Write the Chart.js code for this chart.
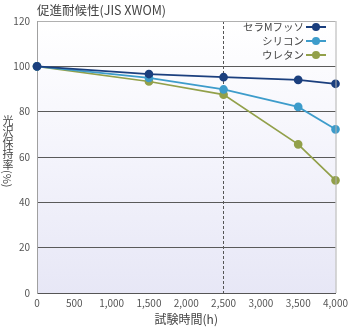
<!DOCTYPE html>
<html>
<head>
<meta charset="utf-8">
<script src="https://cdn.jsdelivr.net/npm/chart.js@4/dist/chart.umd.min.js"></script>
<style>
    html, body { margin: 0; padding: 0; background: #fff; }
    .wrap { position: relative; width: 352px; height: 329px; font-family: 'Noto Sans CJK JP', sans-serif; color: #444; }
    canvas { position: absolute; left: 0; top: 0; }
    .title { position: absolute; left: 37px; top: 1px; font-size: 12.5px; line-height: 18px; white-space: nowrap; }
    .ytitle { position: absolute; left: 1px; top: 115px; width: 13px; font-size: 11px; line-height: 13px; writing-mode: vertical-rl; text-orientation: mixed; white-space: nowrap; }
    .legend { position: absolute; right: 26px; top: 20px; font-size: 10.5px; line-height: 14px; text-align: right; }
    .legend div { white-space: nowrap; }
    .mark { display: inline-block; position: relative; width: 20px; height: 14px; vertical-align: top; margin-left: 2px; }
    .mark i { position: absolute; left: 0; right: 0; top: 6px; height: 2px; }
    .mark b { position: absolute; left: 6px; top: 3px; width: 8px; height: 8px; border-radius: 50%; }
</style>
</head>
<body>
<div class="wrap">
    <canvas id="chart" width="352" height="329"></canvas>
    <div class="title">促進耐候性(JIS XWOM)</div>
    <div class="ytitle">光沢保持率(%)</div>
    <div class="legend" id="legend"></div>
</div>
<script>
const seriesNames = ['セラMフッソ', 'シリコン', 'ウレタン'];
const hours = [0, 1500, 2500, 3500, 4000];
const ceraFluoro = [100, 96.6, 95.2, 94, 92.3];
const silicone = [100, 94.9, 89.8, 82.1, 72.2];
const urethane = [100, 93.3, 87.5, 65.6, 49.7];
const seriesColors = ['#1b3f7e', '#3d9ccb', '#92a04a'];
const markerLine = 2500;

const allSeries = [ceraFluoro, silicone, urethane];

document.getElementById('legend').innerHTML = seriesNames.map((n, i) => `
    <div>${n}<span class="mark"><i style="background:${seriesColors[i]}"></i><b style="background:${seriesColors[i]}"></b></span></div>
`).join('');

const plotBackground = {
    id: 'plotBackground',
    beforeDraw(chart) {
        const { ctx, chartArea: a } = chart;
        const g = ctx.createLinearGradient(0, a.top, 0, a.bottom);
        g.addColorStop(0, '#ffffff');
        g.addColorStop(0.45, '#f5f5fc');
        g.addColorStop(1, '#e7e7f6');
        ctx.save();
        ctx.fillStyle = g;
        ctx.fillRect(a.left, a.top, a.right - a.left, a.bottom - a.top);
        ctx.restore();
    },
    afterDraw(chart) {
        const { ctx, chartArea: a } = chart;
        ctx.save();
        ctx.strokeStyle = '#b0b0b0';
        ctx.lineWidth = 1;
        ctx.beginPath();
        ctx.moveTo(a.right + 0.5, a.top);
        ctx.lineTo(a.right + 0.5, a.bottom);
        ctx.stroke();
        ctx.restore();
    }
};

const font = { family: "'Noto Sans CJK JP', sans-serif", size: 10 };

new Chart(document.getElementById('chart'), {
    type: 'line',
    data: {
        datasets: seriesNames.map((n, i) => ({
            label: n,
            data: hours.map((h, j) => ({ x: h, y: allSeries[i][j] })),
            borderColor: seriesColors[i],
            backgroundColor: seriesColors[i],
            borderWidth: 1.7,
            pointRadius: 3.5,
            pointHoverRadius: 3.5,
            tension: 0,
            clip: false
        }))
    },
    options: {
        responsive: false,
        animation: false,
        events: [],
        layout: { padding: { top: 21, right: 11, left: 0, bottom: 0 } },
        plugins: {
            legend: { display: false },
            tooltip: { enabled: false }
        },
        scales: {
            x: {
                type: 'linear',
                min: 0,
                max: 4000,
                afterFit(scale) { scale.height = 36; },
                ticks: {
                    stepSize: 500,
                    padding: 4,
                    color: '#555',
                    font: font,
                    maxRotation: 0,
                    callback: v => v.toLocaleString('en-US')
                },
                grid: {
                    drawTicks: false,
                    color: c => c.tick && c.tick.value === markerLine ? '#555' : 'rgba(0,0,0,0)',
                    lineWidth: 1
                },
                border: { color: '#555', dash: [3, 2] },
                title: {
                    display: true,
                    text: '試験時間(h)',
                    color: '#444',
                    font: { family: "'Noto Sans CJK JP', sans-serif", size: 12 },
                    padding: { top: 3, bottom: 2 }
                }
            },
            y: {
                min: 0,
                max: 120,
                afterFit(scale) { scale.width = 37; },
                ticks: {
                    stepSize: 20,
                    padding: 7,
                    color: '#555',
                    font: font
                },
                grid: {
                    drawTicks: false,
                    color: c => c.tick && c.tick.value === 120 ? '#b0b0b0' : '#5a5a5a',
                    lineWidth: 1
                },
                border: { color: '#a0a0a0' }
            }
        }
    },
    plugins: [plotBackground]
});
</script>
</body>
</html>
